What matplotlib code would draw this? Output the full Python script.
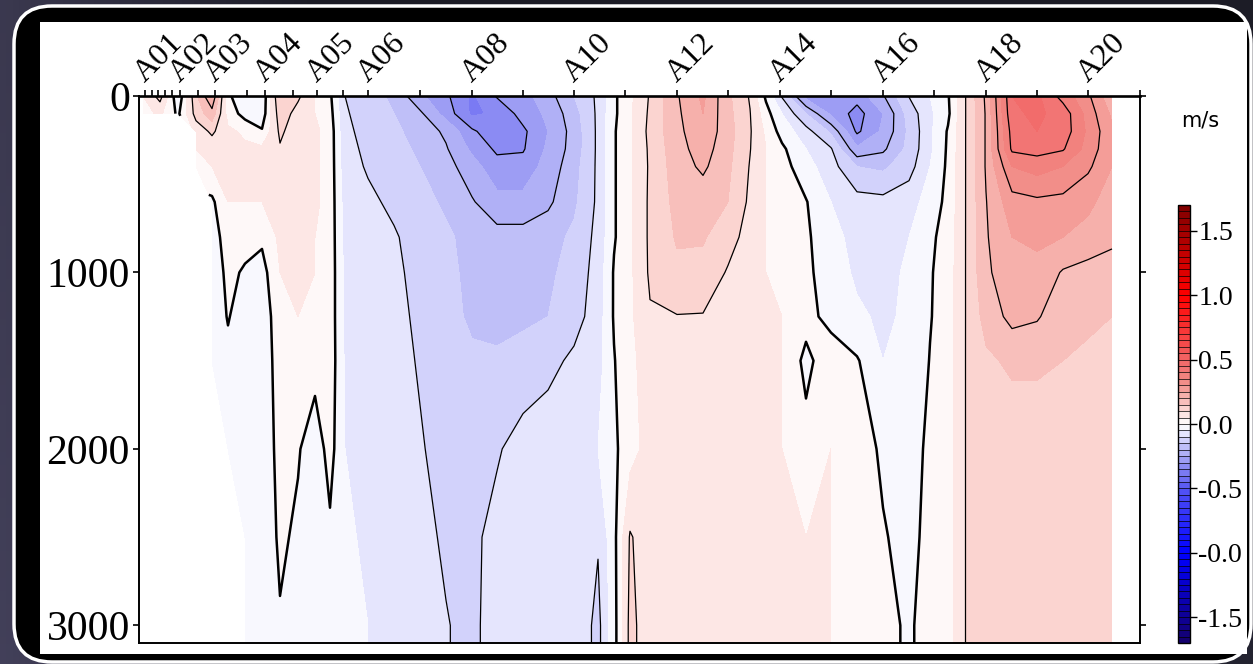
import numpy as np
import matplotlib
matplotlib.use("Agg")
import matplotlib.pyplot as plt
from matplotlib.colors import LinearSegmentedColormap
from matplotlib.patches import FancyBboxPatch, Rectangle

nan = np.nan

# station names and along-section distance (km)
station_names = ["A01", "A02", "A03", "A04", "A05", "A06", "A07", "A08", "A09", "A10",
                 "A11", "A12", "A13", "A14", "A15", "A16", "A17", "A18", "A19", "A20"]
station_km = [0.6, 4.1, 7.6, 12.6, 17.8, 22.9, 28.1, 33.3, 38.4, 43.5,
              48.6, 53.8, 58.9, 64.1, 69.2, 74.4, 79.5, 84.7, 89.8, 94.9]
labelled = ["A01", "A02", "A03", "A04", "A05", "A06", "A08", "A10",
            "A12", "A14", "A16", "A18", "A20"]
extra_cast_km = [1.3, 1.9, 2.6, 3.3, 5.9, 10.8, 15.4, 20.4, 100.1]

depth_m = [0, 100, 200, 300, 400, 600, 800, 1000, 1250, 1500, 2000, 2500, 3000, 3100]
depth_ticks = [0, 1000, 2000, 3000]

# velocity profiles (m/s), one list per grid column, values at depth_m
west_km = [0.4, 2.1, 3.9, 5.7, 7.3, 8.9, 10.6, 12.3, 14.1, 15.9, 17.6, 19.1]
vel_west = [
    [0.05, 0.03, nan, nan, nan, nan, nan, nan, nan, nan, nan, nan, nan, nan],
    [0.12, 0.06, nan, nan, nan, nan, nan, nan, nan, nan, nan, nan, nan, nan],
    [-0.04, -0.01, nan, nan, nan, nan, nan, nan, nan, nan, nan, nan, nan, nan],
    [0.14, 0.12, 0.07, 0.05, 0.04, nan, nan, nan, nan, nan, nan, nan, nan, nan],
    [0.25, 0.18, 0.11, 0.07, 0.05, -0.01, -0.04, -0.05, -0.05, -0.05, nan, nan, nan, nan],
    [0.01, 0.03, 0.06, 0.07, 0.07, 0.05, 0.04, 0.02, 0.005, -0.02, -0.04, nan, nan, nan],
    [-0.04, -0.02, 0.04, 0.06, 0.07, 0.05, 0.03, -0.01, -0.04, -0.05, -0.05, -0.04, -0.03, -0.03],
    [-0.04, -0.03, 0.005, 0.06, 0.07, 0.05, 0.01, -0.02, -0.04, -0.04, -0.04, -0.04, -0.03, -0.03],
    [0.15, 0.13, 0.11, 0.095, 0.08, 0.07, 0.06, 0.05, 0.04, 0.03, 0.02, 0.01, -0.005, -0.01],
    [0.11, 0.08, 0.07, 0.07, 0.07, 0.07, 0.06, 0.06, 0.05, 0.04, 0.005, -0.01, -0.03, -0.03],
    [0.05, 0.05, 0.06, 0.06, 0.06, 0.06, 0.05, 0.05, 0.04, 0.02, -0.03, -0.04, -0.04, -0.04],
    [0.01, 0.02, 0.03, 0.03, 0.03, 0.03, 0.03, 0.03, 0.03, 0.03, 0.02, -0.01, -0.04, -0.04],
]

central_km = [20.6, 22.9, 25.5, 28.1, 30.7, 33.3, 35.8, 38.4, 40.9, 43.5, 45.9, 47.5]
vel_central = [
    [-0.10, -0.095, -0.09, -0.085, -0.08, -0.07, -0.065, -0.06, -0.06, -0.055, -0.05, -0.045, -0.04, -0.04],
    [-0.13, -0.12, -0.115, -0.11, -0.105, -0.09, -0.08, -0.075, -0.07, -0.065, -0.06, -0.055, -0.05, -0.05],
    [-0.16, -0.15, -0.14, -0.13, -0.12, -0.11, -0.095, -0.09, -0.085, -0.08, -0.075, -0.07, -0.065, -0.065],
    [-0.24, -0.19, -0.17, -0.16, -0.15, -0.13, -0.12, -0.115, -0.11, -0.105, -0.095, -0.09, -0.085, -0.085],
    [-0.29, -0.27, -0.21, -0.195, -0.18, -0.16, -0.14, -0.14, -0.14, -0.13, -0.12, -0.105, -0.098, -0.098],
    [-0.36, -0.36, -0.29, -0.26, -0.23, -0.195, -0.17, -0.16, -0.155, -0.145, -0.13, -0.11, -0.11, -0.11],
    [-0.295, -0.34, -0.34, -0.31, -0.28, -0.235, -0.18, -0.17, -0.16, -0.145, -0.105, -0.085, -0.08, -0.08],
    [-0.27, -0.28, -0.31, -0.305, -0.28, -0.235, -0.18, -0.17, -0.16, -0.13, -0.08, -0.07, -0.065, -0.065],
    [-0.22, -0.24, -0.25, -0.24, -0.23, -0.21, -0.17, -0.16, -0.15, -0.115, -0.07, -0.06, -0.06, -0.06],
    [-0.15, -0.17, -0.18, -0.18, -0.17, -0.16, -0.14, -0.13, -0.12, -0.09, -0.06, -0.06, -0.06, -0.06],
    [-0.09, -0.09, -0.09, -0.09, -0.09, -0.09, -0.085, -0.08, -0.075, -0.07, -0.05, -0.095, -0.115, -0.115],
    [-0.01, -0.01, -0.005, -0.005, -0.005, -0.005, -0.005, 0.005, 0.005, -0.003, -0.01, -0.015, -0.02, -0.02],
]

a12_km = [49.1, 51.1, 53.8, 56.4, 58.9, 61.1]
vel_a12 = [
    [0.04, 0.04, 0.04, 0.04, 0.04, 0.04, 0.04, 0.04, 0.04, 0.04, 0.03, 0.105, 0.115, 0.115],
    [0.105, 0.11, 0.115, 0.11, 0.108, 0.11, 0.11, 0.108, 0.095, 0.07, 0.07, 0.07, 0.07, 0.07],
    [0.195, 0.19, 0.185, 0.18, 0.175, 0.165, 0.155, 0.14, 0.098, 0.07, 0.07, 0.07, 0.07, 0.07],
    [0.26, 0.25, 0.24, 0.225, 0.21, 0.17, 0.155, 0.135, 0.097, 0.07, 0.07, 0.07, 0.07, 0.07],
    [0.16, 0.165, 0.17, 0.165, 0.16, 0.15, 0.12, 0.095, 0.08, 0.07, 0.07, 0.07, 0.07, 0.07],
    [0.095, 0.102, 0.105, 0.102, 0.097, 0.09, 0.08, 0.07, 0.07, 0.065, 0.065, 0.065, 0.065, 0.065],
]

a15_km = [62.7, 64.3, 66.7, 69.2, 71.8, 74.4, 77.0, 79.1, 80.9]
vel_a15 = [
    [-0.01, 0.02, 0.04, 0.05, 0.05, 0.05, 0.05, 0.05, 0.05, 0.06, 0.06, 0.06, 0.06, 0.06],
    [-0.105, -0.05, -0.02, 0.01, 0.02, 0.04, 0.045, 0.045, 0.05, 0.05, 0.05, 0.06, 0.06, 0.06],
    [-0.27, -0.15, -0.08, -0.05, -0.03, 0.003, 0.01, 0.015, 0.02, -0.015, 0.02, 0.05, 0.05, 0.05],
    [-0.27, -0.26, -0.16, -0.095, -0.08, -0.05, -0.04, -0.035, -0.02, 0.035, 0.05, 0.05, 0.05, 0.05],
    [-0.28, -0.32, -0.31, -0.24, -0.15, -0.08, -0.06, -0.055, -0.045, 0.005, 0.03, 0.04, 0.04, 0.04],
    [-0.205, -0.25, -0.24, -0.21, -0.16, -0.085, -0.065, -0.06, -0.055, -0.05, -0.01, 0.005, 0.02, 0.02],
    [-0.098, -0.13, -0.14, -0.135, -0.12, -0.07, -0.05, -0.045, -0.045, -0.04, -0.02, -0.02, -0.01, -0.01],
    [-0.05, -0.06, -0.06, -0.06, -0.05, -0.03, -0.01, -0.005, -0.003, 0.002, 0.01, 0.02, 0.03, 0.03],
    [-0.005, -0.01, 0.005, 0.008, 0.01, 0.015, 0.02, 0.025, 0.025, 0.03, 0.03, 0.03, 0.03, 0.03],
]

a18_km = [82.7, 84.7, 87.3, 89.8, 92.4, 94.9, 97.3]
vel_a18 = [
    [0.102, 0.102, 0.102, 0.102, 0.102, 0.102, 0.102, 0.102, 0.102, 0.102, 0.102, 0.102, 0.102, 0.102],
    [0.21, 0.205, 0.205, 0.205, 0.205, 0.198, 0.195, 0.19, 0.17, 0.14, 0.11, 0.11, 0.11, 0.11],
    [0.45, 0.44, 0.42, 0.41, 0.35, 0.28, 0.25, 0.235, 0.215, 0.16, 0.115, 0.11, 0.11, 0.11],
    [0.46, 0.46, 0.45, 0.42, 0.37, 0.29, 0.26, 0.235, 0.205, 0.16, 0.115, 0.11, 0.11, 0.11],
    [0.38, 0.43, 0.43, 0.405, 0.35, 0.285, 0.25, 0.195, 0.17, 0.15, 0.115, 0.11, 0.11, 0.11],
    [0.31, 0.33, 0.34, 0.33, 0.31, 0.26, 0.235, 0.18, 0.16, 0.14, 0.11, 0.11, 0.11, 0.11],
    [0.21, 0.24, 0.26, 0.26, 0.25, 0.23, 0.215, 0.17, 0.15, 0.13, 0.11, 0.11, 0.11, 0.11],
]

line_levels = [-0.4, -0.3, -0.2, -0.1, 0.1, 0.2, 0.3, 0.4]
cbar_ticks = [-1.5, -1.0, -0.5, 0.0, 0.5, 1.0, 1.5]
cbar_labels = ["-1.5", "-0.0", "-0.5", "0.0", "0.5", "1.0", "1.5"]

# ---------------------------------------------------------------
grid_km = np.array(west_km + central_km + a12_km + a15_km + a18_km)
vel = np.ma.masked_invalid(
    np.array(vel_west + vel_central + vel_a12 + vel_a15 + vel_a18).T)

tick_km = sorted(station_km + extra_cast_km)
tick_labels = []
for t in tick_km:
    name = station_names[station_km.index(t)] if t in station_km else ""
    tick_labels.append(name if name in labelled else "")

plt.rcParams["font.family"] = ["Liberation Serif", "DejaVu Serif"]

W, H = 1253, 664
fig = plt.figure(figsize=(W / 100, H / 100), dpi=100)
fig.patch.set_facecolor("#23232f")

# dark slide background with the rounded white-rimmed frame
bg = fig.add_axes([0, 0, 1, 1], zorder=-10)
bg.set_xlim(0, W)
bg.set_ylim(H, 0)
bg.axis("off")
gx = np.linspace(0, 1, 200)
gy = np.linspace(0, 1, 100)
GX, GY = np.meshgrid(gx, gy)
left_c = np.array([0.26, 0.25, 0.35])
right_c = np.array([0.11, 0.11, 0.15])
mix = np.clip(1 - GX * 4, 0, 1)[..., None] * 0.8 + 0.2 * (GY[..., None])
grad = right_c + (left_c - right_c) * np.clip(mix, 0, 1)
bg.imshow(grad, extent=(0, W, H, 0), aspect="auto", zorder=0)
bg.add_patch(FancyBboxPatch((14, 6), 1237, 656,
                            boxstyle="round,pad=0,rounding_size=38",
                            fc="black", ec="white", lw=2.5, zorder=1))
bg.add_patch(Rectangle((40, 22), 1207, 632, fc="white", ec="none", zorder=2))

# main section plot
ax = fig.add_axes([139 / W, 1 - 643 / H, 1001 / W, 547 / H])
ax.set_facecolor("white")

cm_nodes = [(-1.7, (0.08, 0.0, 0.42)), (-1.0, (0.0, 0.0, 1.0)),
            (-0.5, (0.33, 0.33, 0.96)), (-0.3, (0.58, 0.58, 0.95)),
            (-0.2, (0.72, 0.72, 0.97)), (-0.1, (0.86, 0.86, 0.99)),
            (0.0, (1.0, 1.0, 1.0)), (0.1, (0.99, 0.87, 0.86)),
            (0.2, (0.97, 0.72, 0.70)), (0.3, (0.95, 0.58, 0.56)),
            (0.5, (0.95, 0.40, 0.40)), (1.0, (1.0, 0.0, 0.0)),
            (1.7, (0.5, 0.0, 0.0))]
cmap = LinearSegmentedColormap.from_list(
    "vel", [((v + 1.7) / 3.4, c) for v, c in cm_nodes])
fill_levels = np.linspace(-1.7, 1.7, 69)

cf = ax.contourf(grid_km, depth_m, vel, levels=fill_levels, cmap=cmap,
                 vmin=-1.7, vmax=1.7)
ax.contour(grid_km, depth_m, vel, levels=line_levels, colors="k",
           linewidths=0.9, linestyles="solid")
ax.contour(grid_km, depth_m, vel, levels=[0.0], colors="k", linewidths=1.8,
           linestyles="solid")

ax.set_xlim(0, 100.1)
ax.set_ylim(3100, 0)
ax.xaxis.tick_top()
ax.set_xticks(tick_km)
ax.set_xticklabels(tick_labels, rotation=45, ha="left", va="baseline",
                   rotation_mode="anchor")
ax.tick_params(axis="x", direction="out", length=4.5, width=1.2, pad=5,
               labelsize=23)
ax.set_yticks(depth_ticks)
ax.tick_params(axis="y", direction="out", length=4.5, width=1.2, pad=2,
               labelsize=30, right=True)
for side in ["left", "right", "bottom"]:
    ax.spines[side].set_linewidth(1.4)
ax.spines["top"].set_linewidth(1.9)

# colour bar
cax = fig.add_axes([1178 / W, 1 - 643 / H, 12 / W, 438 / H])
cb = fig.colorbar(cf, cax=cax, ticks=cbar_ticks, drawedges=True)
cb.set_ticklabels(cbar_labels)
cb.dividers.set_color("k")
cb.dividers.set_linewidth(0.5)
cb.outline.set_linewidth(1.0)
cax.tick_params(direction="out", length=5, width=1.0, pad=1, labelsize=20)

fig.text(1200 / W, 1 - 121 / H, "m/s", ha="center", va="center",
         fontsize=15, family="DejaVu Sans")

fig.savefig("out.png", dpi=100, facecolor=fig.get_facecolor())
